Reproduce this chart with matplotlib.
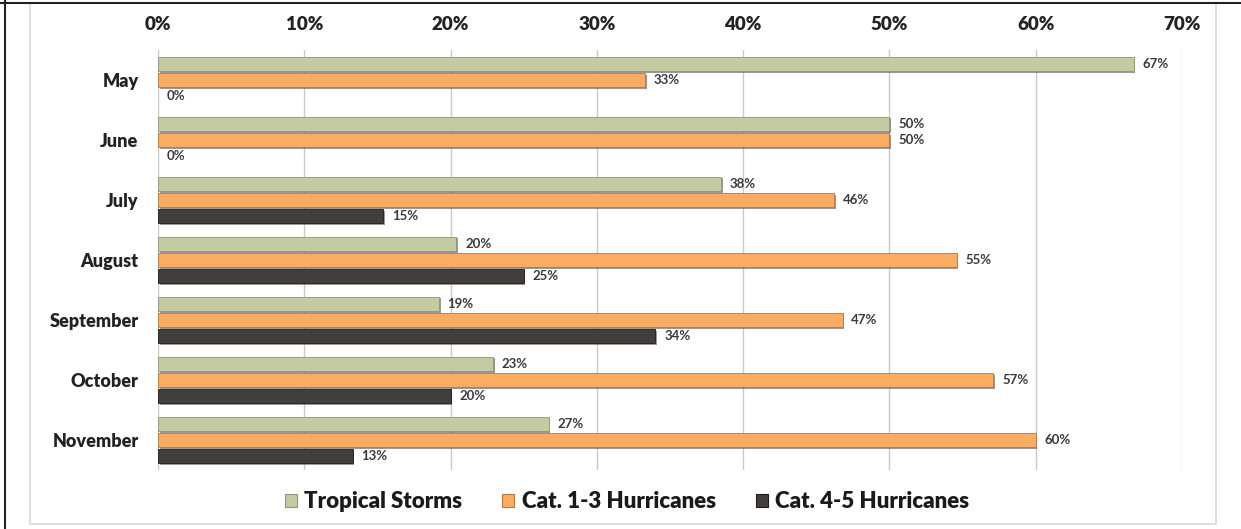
import numpy as np
import matplotlib
matplotlib.use("Agg")
import matplotlib.pyplot as plt
import matplotlib.patheffects as pe
from matplotlib.patches import Rectangle
from matplotlib.lines import Line2D

plt.rcParams['font.family'] = ['Lato', 'DejaVu Sans']

months = ["May", "June", "July", "August", "September", "October", "November"]
tropical = [66.7, 50.0, 38.5, 20.4, 19.2, 22.9, 26.7]
cat13 = [33.3, 50.0, 46.2, 54.6, 46.8, 57.1, 60.0]
cat45 = [0.0, 0.0, 15.4, 25.0, 34.0, 20.0, 13.3]
series_names = ["Tropical Storms", "Cat. 1-3 Hurricanes", "Cat. 4-5 Hurricanes"]
colors = ["#C4CBA0", "#F9AC62", "#423E3B"]
edges = ["#8E957A", "#B9763D", "#1E1B19"]
xticks = [0, 10, 20, 30, 40, 50, 60, 70]

fig = plt.figure(figsize=(12.41, 5.29), dpi=100)
ax = fig.add_axes([158 / 1241, 1 - 470 / 529, (1182 - 158) / 1241, 420 / 529])

y = np.arange(len(months))
h = 0.235
offsets = [-0.27, 0, 0.27]
shadow = [pe.SimplePatchShadow(offset=(1.2, -1.2), shadow_rgbFace="#555555", alpha=0.6), pe.Normal()]

for vals, off, col, ec, name in zip([tropical, cat13, cat45], offsets, colors, edges, series_names):
    bars = ax.barh(y + off, vals, height=h, color=col, edgecolor=ec, linewidth=0.6,
                   label=name, zorder=3)
    for b, v in zip(bars, vals):
        if v > 0:
            b.set_path_effects(shadow)
        else:
            b.set_linewidth(0)
    for yi, v in zip(y + off, vals):
        ax.text(v + 0.6, yi, f"{v:.0f}%", va="center", ha="left", fontsize=9.5,
                color="#3A3A3A", fontweight="bold", zorder=4)

ax.set_xlim(0, 70)
ax.set_ylim(len(months) - 0.5, -0.5)
ax.set_xticks(xticks)
ax.set_xticklabels([f"{t}%" for t in xticks], fontsize=13.5, fontweight="heavy", color="#222222")
ax.xaxis.tick_top()
ax.tick_params(axis="x", length=0, pad=12)
ax.set_yticks(y)
ax.set_yticklabels(months, fontsize=13, fontweight="heavy", color="#222222")
ax.tick_params(axis="y", length=0, pad=14)
ax.grid(axis="x", color="#C8C8C8", linewidth=1.0, zorder=0)
for s in ax.spines.values():
    s.set_visible(False)

handles = [Rectangle((0, 0), 1, 1, facecolor=c, edgecolor=e, linewidth=0.8) for c, e in zip(colors, edges)]
leg = fig.legend(handles, series_names, loc="center", bbox_to_anchor=(627 / 1241, 1 - 502 / 529),
                 ncol=3, frameon=False, prop={"size": 16, "weight": "heavy"},
                 handlelength=0.55, handleheight=0.55, handletextpad=0.32, columnspacing=1.8)
for t in leg.get_texts():
    t.set_color("#1A1A1A")

# outer frame lines
fig.add_artist(Rectangle((30 / 1241, 1 - 524 / 529), (1216 - 30) / 1241, (524 - 3) / 529,
                         transform=fig.transFigure, fill=False, edgecolor="#D9D9D9", linewidth=1.2))
fig.add_artist(Line2D([5 / 1241, 5 / 1241], [0, 1], transform=fig.transFigure, color="#222222", linewidth=1.5))
fig.add_artist(Line2D([0, 1], [1 - 3 / 529, 1 - 3 / 529], transform=fig.transFigure, color="#222222", linewidth=1.5))

fig.savefig("out.png", dpi=100, facecolor="white")
